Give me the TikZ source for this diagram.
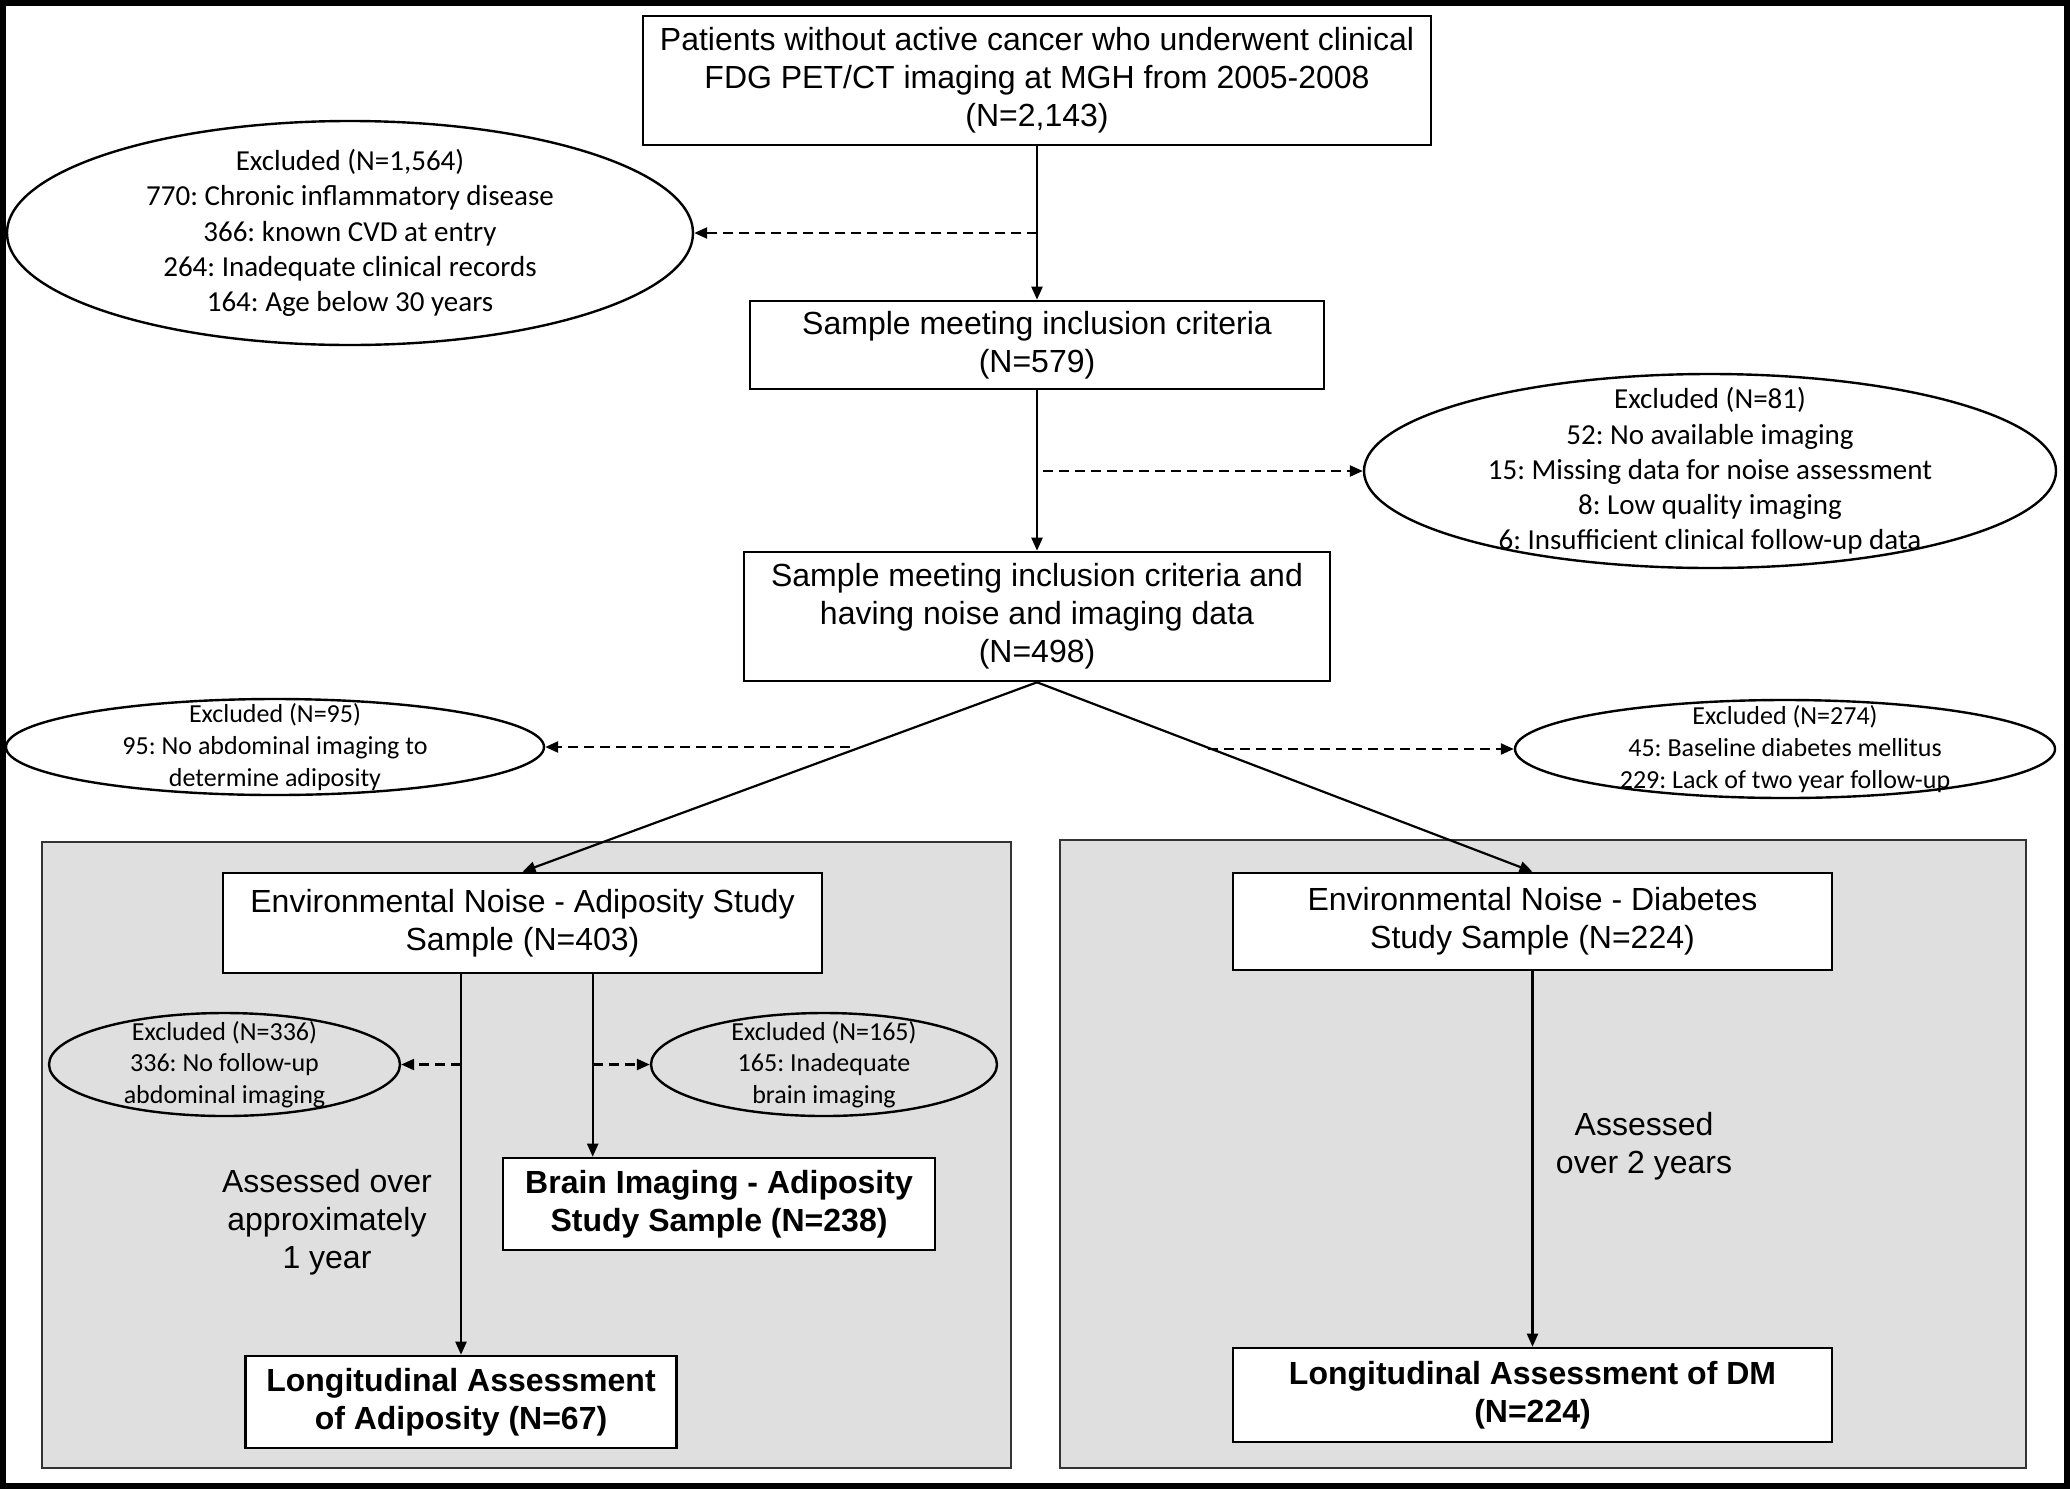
\documentclass[tikz,border=0pt]{standalone}
\usepackage{fontspec}
\setmainfont{Liberation Sans}
\newfontfamily\calfont{Carlito}
\frenchspacing
\usetikzlibrary{shapes.geometric,arrows.meta,calc}
\tikzset{
  box/.style={draw, fill=white, line width=1.3pt, align=center, inner sep=0pt, font=\fontsize{16}{19}\selectfont},
  bbox/.style={box, font=\fontsize{16}{19}\selectfont\bfseries},
  ell/.style={ellipse, draw, line width=1.2pt, align=center, inner xsep=0pt, inner ysep=-30pt, font=\calfont\fontsize{14.5}{17.6}\selectfont},
  sell/.style={ellipse, draw, line width=1.2pt, align=center, inner xsep=0pt, inner ysep=-15pt, font=\calfont\fontsize{13}{15.8}\selectfont},
  panel/.style={draw=black!80, fill=gray!25, line width=1pt, inner sep=0pt},
  lbl/.style={align=center, inner sep=0pt, font=\fontsize{16}{19}\selectfont},
  arr/.style={-{Triangle[length=6.5pt,width=5.5pt]}, line width=1.1pt},
  darr/.style={-{Triangle[length=6.5pt,width=5.5pt]}, line width=1.2pt, dash pattern=on 5pt off 3pt},
}
\begin{document}
\frenchspacing
\begin{tikzpicture}[x=0.5pt,y=-0.5pt]
\useasboundingbox (0,0) rectangle (2070,1489);
\draw[line width=3pt] (3,3) rectangle (2067,1486);

% panels
\node[panel, minimum width=484.5pt, minimum height=313pt] (pL) at (526.5,1155) {};
\node[panel, minimum width=483pt, minimum height=314pt] (pR) at (1543,1154) {};

% main boxes
\node[box, minimum width=394pt, minimum height=64.5pt] (top) at (1037,80.5)
  {Patients without active cancer who underwent clinical\\FDG PET/CT imaging at MGH from 2005-2008\\(N=2,143)};
\node[box, minimum width=287pt, minimum height=44pt] (b2) at (1037,345)
  {Sample meeting inclusion criteria\\(N=579)};
\node[box, minimum width=293pt, minimum height=64.5pt] (b3) at (1037,616.5)
  {Sample meeting inclusion criteria and\\having noise and imaging data\\(N=498)};

% exclusion ellipses
\node[ell, minimum width=343pt, minimum height=112pt] (e1) at (350,233)
  {Excluded (N=1,564)\\770: Chronic inflammatory disease\\366: known CVD at entry\\264: Inadequate clinical records\\164: Age below 30 years};
\node[ell, minimum width=346pt, minimum height=97pt] (e2) at (1710,471)
  {Excluded (N=81)\\52: No available imaging\\15: Missing data for noise assessment\\8: Low quality imaging\\6: Insufficient clinical follow-up data};
\node[sell, minimum width=269pt, minimum height=48pt] (e3) at (275,747)
  {Excluded (N=95)\\95: No abdominal imaging to\\determine adiposity};
\node[sell, minimum width=270pt, minimum height=49pt] (e4) at (1785,749)
  {Excluded (N=274)\\45: Baseline diabetes mellitus\\229: Lack of two year follow-up};

% study boxes
\node[box, minimum width=299.5pt, minimum height=50pt] (L1) at (522.5,923)
  {Environmental Noise - Adiposity Study\\Sample (N=403)};
\node[box, minimum width=299.5pt, minimum height=48.5pt] (R1) at (1532.5,921.5)
  {Environmental Noise - Diabetes\\Study Sample (N=224)};
\node[bbox, minimum width=216pt, minimum height=46pt] (L2) at (719,1204)
  {Brain Imaging - Adiposity\\Study Sample (N=238)};
\node[bbox, minimum width=215.5pt, minimum height=46pt] (L3) at (461,1402)
  {Longitudinal Assessment\\of Adiposity (N=67)};
\node[bbox, minimum width=299.5pt, minimum height=47pt] (R2) at (1532.5,1395)
  {Longitudinal Assessment of DM\\(N=224)};

\node[sell, minimum width=175.5pt, minimum height=51.5pt] (e5) at (224.5,1064.5)
  {Excluded (N=336)\\336: No follow-up\\abdominal imaging};
\node[sell, minimum width=173pt, minimum height=51.5pt] (e6) at (824,1064.5)
  {Excluded (N=165)\\165: Inadequate\\brain imaging};

\node[lbl] (t1) at (327,1222) {Assessed over\\approximately\\1 year};
\node[lbl] (t2) at (1644,1146) {Assessed\\over 2 years};

% connectors
\draw[arr] (top.south) -- (b2.north);
\draw[arr] (b2.south) -- (b3.north);
\draw[darr] (top.south |- e1.east) -- (e1.east);
\draw[darr] ($(b2.south |- e2.west)+(3pt,0)$) -- (e2.west);

\draw[arr] (b3.south) -- (L1.north);
\draw[arr] (b3.south) -- (R1.north);
\coordinate (d3) at (850,747);
\coordinate (d4) at (1208,749);
\draw[darr] (d3) -- (e3.east);
\draw[darr] (d4) -- (e4.west);

\coordinate (br) at ([xshift=45.5pt]L2.north west);
\draw[arr] (L1.south -| L3.north) -- (L3.north);
\draw[arr] (L1.south -| br) -- (br);
\draw[darr] (L3.north |- e5.east) -- (e5.east);
\draw[darr] (br |- e6.west) -- (e6.west);
\draw[arr] (R1.south) -- (R2.north);
\end{tikzpicture}
\end{document}
